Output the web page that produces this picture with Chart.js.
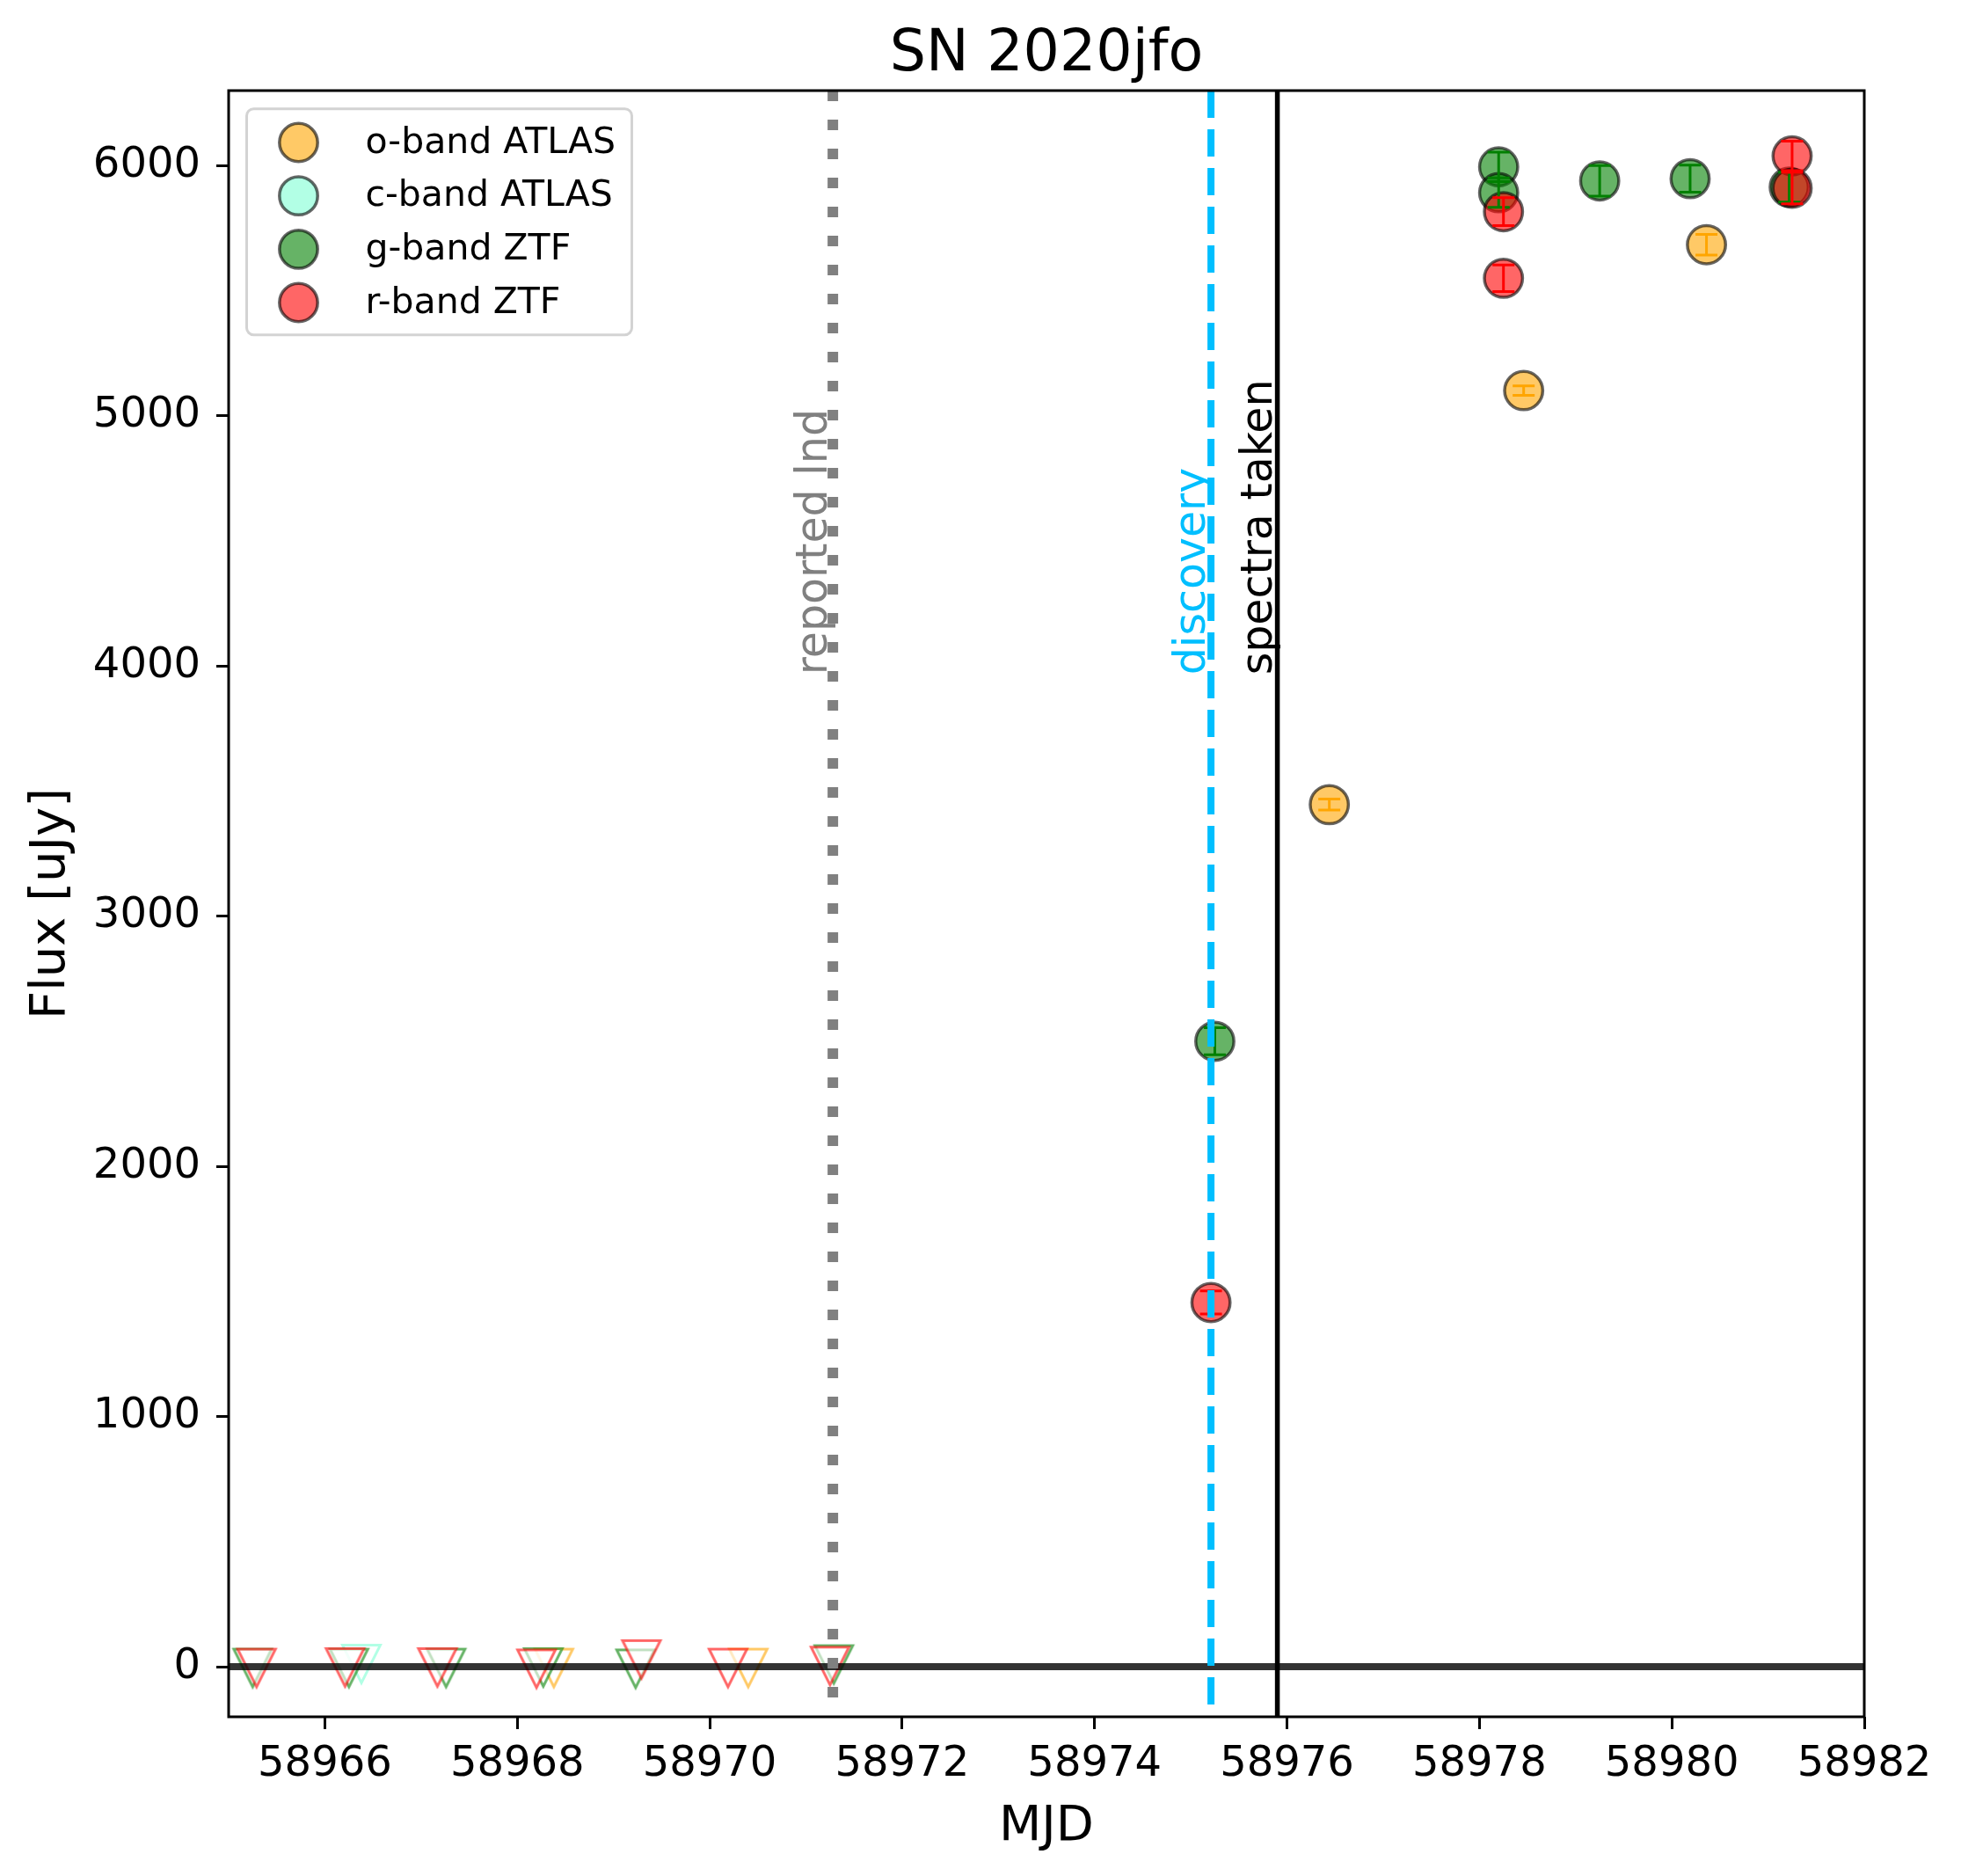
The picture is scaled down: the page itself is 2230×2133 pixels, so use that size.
<!DOCTYPE html>
<html lang="en">
<head>
<meta charset="UTF-8">
<title>SN 2020jfo</title>
<script src="https://cdn.jsdelivr.net/npm/chart.js"></script>
<style>
  html, body { margin: 0; padding: 0; background: #fff; }
  #plot { display: block; width: 2230px; height: 2133px; }
</style>
</head>
<body>
<canvas id="plot" width="2230" height="2133"></canvas>
<script>
// detections (MJD, flux in uJy, 1-sigma error)
const oMjd  = [58976.44, 58978.46, 58980.36];
const oFlux = [3446, 5101, 5684];
const oErr  = [22, 19, 41];

const gMjd  = [58975.25, 58978.20, 58978.20, 58979.25, 58980.19, 58981.22];
const gFlux = [2500, 5995, 5892, 5939, 5948, 5914];
const gErr  = [54, 59, 59, 61, 54, 60];

const rMjd  = [58975.21, 58978.25, 58978.25, 58981.25, 58981.25];
const rFlux = [1456, 5816, 5550, 6039, 5910];
const rErr  = [46, 56, 53, 59, 63];

// non-detections (upper limits)
const oLimMjd  = [58968.38, 58970.40];
const oLimFlux = [-5, -5];
const cLimMjd  = [58966.38];
const cLimFlux = [11];
const gLimMjd  = [58965.25, 58966.25, 58967.26, 58968.27, 58969.23, 58971.29];
const gLimFlux = [-5, -5, -5, -3, -8, 9];
const rLimMjd  = [58965.29, 58966.21, 58967.17, 58968.20, 58969.29, 58970.19, 58971.25];
const rLimFlux = [-5, -3, -3, -8, 29, -5, 3];

// vertical markers
const eventMjd    = [58971.28, 58975.21, 58975.90];
const eventLabels = ['reported lnd', 'discovery', 'spectra taken'];
const eventLabelFlux = 4000;

const bandLabels = ['o-band ATLAS', 'c-band ATLAS', 'g-band ZTF', 'r-band ZTF'];

const xTickValues = [58966, 58968, 58970, 58972, 58974, 58976, 58978, 58980, 58982];
const yTickValues = [0, 1000, 2000, 3000, 4000, 5000, 6000];

const FONT = '"DejaVu Sans", sans-serif';

function pts(xs, ys) {
  return xs.map((x, i) => ({x: x, y: ys[i]}));
}

// matplotlib style 'v' marker: white translucent face, coloured edge
function tri(edge) {
  const c = document.createElement('canvas');
  c.width = 58; c.height = 58;
  const g = c.getContext('2d');
  const m = 29, h = 21.5;
  g.beginPath();
  g.moveTo(m - h, m - h);
  g.lineTo(m + h, m - h);
  g.lineTo(m, m + h);
  g.closePath();
  g.fillStyle = 'rgba(255,255,255,0.6)';
  g.fill();
  g.lineWidth = 3;
  g.lineJoin = 'miter';
  g.strokeStyle = edge;
  g.stroke();
  return c;
}

const bandFill = ['rgba(255,165,0,0.6)', 'rgba(127,255,212,0.6)', 'rgba(0,128,0,0.6)', 'rgba(255,0,0,0.6)'];
const bandSolid = ['#ffa500', '#7fffd4', '#008000', '#ff0000'];

function circles(label, data, fill, order) {
  return {
    label: label, data: data, order: order,
    pointStyle: 'circle', pointRadius: 21.7, pointHoverRadius: 21.7,
    backgroundColor: fill, borderColor: 'rgba(0,0,0,0.6)', borderWidth: 3.5
  };
}
function limits(label, data, edge, order) {
  return {
    label: label, data: data, order: order,
    pointStyle: tri(edge), pointRadius: 24, pointHoverRadius: 24,
    backgroundColor: 'rgba(0,0,0,0)', borderColor: 'rgba(0,0,0,0)', borderWidth: 0
  };
}

const errorSets = [
  {x: oMjd, y: oFlux, e: oErr, color: bandSolid[0]},
  {x: gMjd, y: gFlux, e: gErr, color: bandSolid[2]},
  {x: rMjd, y: rFlux, e: rErr, color: bandSolid[3]}
];

const lightcurvePlugin = {
  id: 'lightcurve',
  afterDatasetsDraw(chart) {
    const ctx = chart.ctx, xs = chart.scales.x, ys = chart.scales.y, a = chart.chartArea;
    ctx.save();
    ctx.beginPath();
    ctx.rect(a.left, a.top, a.right - a.left, a.bottom - a.top);
    ctx.clip();

    // error bars
    errorSets.forEach(s => {
      ctx.strokeStyle = s.color;
      ctx.lineWidth = 3;
      s.x.forEach((mjd, i) => {
        const px = xs.getPixelForValue(mjd);
        const y1 = ys.getPixelForValue(s.y[i] + s.e[i]);
        const y2 = ys.getPixelForValue(s.y[i] - s.e[i]);
        ctx.beginPath();
        ctx.moveTo(px, y1); ctx.lineTo(px, y2);
        ctx.moveTo(px - 12.5, y1); ctx.lineTo(px + 12.5, y1);
        ctx.moveTo(px - 12.5, y2); ctx.lineTo(px + 12.5, y2);
        ctx.stroke();
      });
    });

    // zero line
    const y0 = ys.getPixelForValue(0);
    ctx.strokeStyle = 'rgba(0,0,0,0.8)';
    ctx.lineWidth = 8;
    ctx.beginPath();
    ctx.moveTo(a.left, y0); ctx.lineTo(a.right, y0);
    ctx.stroke();

    // vertical event lines
    const lineStyle = [
      {color: '#808080', width: 12, dash: [12, 21]},
      {color: '#00bfff', width: 8, dash: [31, 13]},
      {color: '#000000', width: 5.5, dash: []}
    ];
    eventMjd.forEach((mjd, i) => {
      const px = xs.getPixelForValue(mjd);
      ctx.strokeStyle = lineStyle[i].color;
      ctx.lineWidth = lineStyle[i].width;
      ctx.setLineDash(lineStyle[i].dash);
      ctx.beginPath();
      ctx.moveTo(px, a.top); ctx.lineTo(px, a.bottom);
      ctx.stroke();
    });
    ctx.setLineDash([]);

    // event labels
    const ly = ys.getPixelForValue(eventLabelFlux) + 10;
    ctx.font = '49px ' + FONT;
    ctx.textAlign = 'left';
    ctx.textBaseline = 'alphabetic';
    eventMjd.forEach((mjd, i) => {
      const px = xs.getPixelForValue(mjd);
      ctx.save();
      ctx.translate(px - 7, ly);
      ctx.rotate(-Math.PI / 2);
      ctx.fillStyle = lineStyle[i].color;
      ctx.fillText(eventLabels[i], 0, 0);
      ctx.restore();
    });
    ctx.restore();
  },
  afterDraw(chart) {
    const ctx = chart.ctx, a = chart.chartArea;
    ctx.save();
    // frame
    ctx.strokeStyle = '#000';
    ctx.lineWidth = 3;
    ctx.strokeRect(a.left, a.top, a.right - a.left, a.bottom - a.top);

    // legend
    const lx = a.left + 20.5, ly = a.top + 20.7, lw = 438, lh = 257, r = 8;
    ctx.beginPath();
    ctx.moveTo(lx + r, ly);
    ctx.arcTo(lx + lw, ly, lx + lw, ly + lh, r);
    ctx.arcTo(lx + lw, ly + lh, lx, ly + lh, r);
    ctx.arcTo(lx, ly + lh, lx, ly, r);
    ctx.arcTo(lx, ly, lx + lw, ly, r);
    ctx.closePath();
    ctx.fillStyle = 'rgba(255,255,255,0.8)';
    ctx.fill();
    ctx.strokeStyle = '#d3d3d3';
    ctx.lineWidth = 3;
    ctx.stroke();
    ctx.font = '41px ' + FONT;
    ctx.textAlign = 'left';
    ctx.textBaseline = 'alphabetic';
    bandLabels.forEach((lab, i) => {
      const cy = a.top + 59 + i * 60.67;
      ctx.beginPath();
      ctx.arc(a.left + 79.5, cy, 21.7, 0, Math.PI * 2);
      ctx.fillStyle = bandFill[i];
      ctx.fill();
      ctx.strokeStyle = 'rgba(0,0,0,0.6)';
      ctx.lineWidth = 3.5;
      ctx.stroke();
      ctx.fillStyle = '#000';
      ctx.fillText(lab, a.left + 155.5, cy + 11.5);
    });

    // title and axis titles
    const cx = (a.left + a.right) / 2;
    ctx.fillStyle = '#000';
    ctx.textAlign = 'center';
    ctx.font = '65px ' + FONT;
    ctx.fillText('SN 2020jfo', cx, 80);
    ctx.font = '56px ' + FONT;
    ctx.fillText('MJD', cx, 2091.7);
    ctx.save();
    ctx.translate(73, (a.top + a.bottom) / 2);
    ctx.rotate(-Math.PI / 2);
    ctx.fillText('Flux [uJy]', 0, 0);
    ctx.restore();
    ctx.restore();
  }
};

const tickFont = {family: FONT, size: 48};
const gridOpts = { drawOnChartArea: false, drawTicks: true, tickLength: 14, tickWidth: 3, tickColor: '#000', color: '#000' };

new Chart(document.getElementById('plot'), {
  type: 'scatter',
  data: {
    datasets: [
      circles(bandLabels[3], pts(rMjd, rFlux), bandFill[3], 1),
      circles(bandLabels[2], pts(gMjd, gFlux), bandFill[2], 2),
      circles(bandLabels[0], pts(oMjd, oFlux), bandFill[0], 4),
      limits('r-band limit', pts(rLimMjd, rLimFlux), 'rgba(255,0,0,0.6)', 5),
      limits('g-band limit', pts(gLimMjd, gLimFlux), 'rgba(0,128,0,0.6)', 6),
      limits('c-band limit', pts(cLimMjd, cLimFlux), 'rgba(127,255,212,0.6)', 7),
      limits('o-band limit', pts(oLimMjd, oLimFlux), 'rgba(255,165,0,0.6)', 8)
    ]
  },
  options: {
    responsive: false,
    animation: false,
    devicePixelRatio: 1,
    layout: { padding: { left: 0, top: 103, right: 110, bottom: 0 } },
    plugins: {
      legend: { display: false },
      tooltip: { enabled: false },
      title: { display: false }
    },
    scales: {
      x: {
        type: 'linear',
        min: 58965, max: 58982,
        afterBuildTicks(s) { s.ticks = xTickValues.map(v => ({value: v})); },
        afterFit(s) { s.height = 181; },
        grid: gridOpts,
        border: { display: false },
        ticks: {
          autoSkip: false, maxRotation: 0,
          color: '#000', font: tickFont, padding: 12,
          callback: v => String(v)
        }
      },
      y: {
        type: 'linear',
        min: -200, max: 6300,
        afterBuildTicks(s) { s.ticks = yTickValues.map(v => ({value: v})); },
        afterFit(s) { s.width = 260; },
        grid: gridOpts,
        border: { display: false },
        ticks: {
          autoSkip: false,
          color: '#000', font: tickFont, padding: 18,
          callback: v => String(v)
        }
      }
    }
  },
  plugins: [lightcurvePlugin]
});
</script>
</body>
</html>
